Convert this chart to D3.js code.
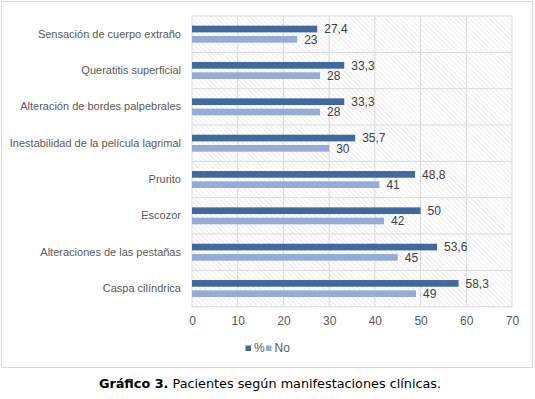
<!DOCTYPE html>
<html><head><meta charset="utf-8">
<script src="https://cdn.jsdelivr.net/npm/d3@7"></script>
<style>
body{margin:0;background:#fff;}
svg{display:block;}
</style></head>
<body>
<svg id="c" width="535" height="399"></svg>
<script>
const categories = ["Sensación de cuerpo extraño","Queratitis superficial","Alteración de bordes palpebrales","Inestabilidad de la película lagrimal","Prurito","Escozor","Alteraciones de las pestañas","Caspa cilíndrica"];
const seriesNames = ["%","No"];
const pctValues = [27.4,33.3,33.3,35.7,48.8,50,53.6,58.3];
const noValues = [23,28,28,30,41,42,45,49];
const xTicks = [0,10,20,30,40,50,60,70];
const colors = ["#41699F","#94ACD6"];

const svg = d3.select("#c");
const L=192, R=512, T=16, B=306.7;
const font = "'Liberation Sans', Arial, sans-serif";

svg.append("rect").attr("x",1.5).attr("y",1.5).attr("width",531).attr("height",366)
  .attr("fill","#fff").attr("stroke","#d9d9d9");

const defs = svg.append("defs");
const pat = defs.append("pattern").attr("id","hatch").attr("patternUnits","userSpaceOnUse")
  .attr("width",3.5).attr("height",4).attr("patternTransform","rotate(-45)");
pat.append("rect").attr("width",3.5).attr("height",4).attr("fill","#fff");
pat.append("line").attr("x1",0).attr("y1",0).attr("x2",0).attr("y2",4).attr("stroke","#e2e2e2").attr("stroke-width",1.2);

const x = d3.scaleLinear().domain([0,70]).range([L,R]);
const y = d3.scaleBand().domain(categories).range([T,B]).padding(0);
const ys = d3.scaleBand().domain(seriesNames).range([0,y.bandwidth()]).paddingInner(0.35).paddingOuter(0.94);

svg.append("rect").attr("x",L).attr("y",T).attr("width",R-L).attr("height",B-T).attr("fill","url(#hatch)");

// grid
svg.append("g").selectAll("line").data(xTicks).join("line")
  .attr("x1",d=>x(d)).attr("x2",d=>x(d)).attr("y1",T).attr("y2",B)
  .attr("stroke","#d9d9d9").attr("stroke-width",1);
const hLines = categories.map(c=>y(c)).concat([B]);
svg.append("g").selectAll("line").data(hLines).join("line")
  .attr("x1",L).attr("x2",R).attr("y1",d=>d).attr("y2",d=>d)
  .attr("stroke","#d9d9d9").attr("stroke-width",1);

const data = categories.map((c,i)=>({c, vals:[{s:"%",v:pctValues[i]},{s:"No",v:noValues[i]}]}));
const g = svg.append("g").selectAll("g").data(data).join("g").attr("transform",d=>`translate(0,${y(d.c)})`);
g.selectAll("rect").data(d=>d.vals).join("rect")
  .attr("x",x(0)).attr("y",d=>ys(d.s)).attr("width",d=>x(d.v)-x(0)).attr("height",ys.bandwidth())
  .attr("fill",(d,i)=>colors[i]);
g.selectAll("text").data(d=>d.vals).join("text")
  .attr("x",d=>x(d.v)+7).attr("y",d=>ys(d.s)+ys.bandwidth()/2).attr("dy","0.36em")
  .attr("font-family",font).attr("font-size",12).attr("fill","#404040")
  .text(d=>String(d.v).replace(".",","));

// axes
const ax = svg.append("g").attr("transform",`translate(0,${B})`)
  .call(d3.axisBottom(x).tickValues(xTicks).tickSize(0).tickPadding(10));
ax.select(".domain").remove();
ax.selectAll("text").attr("font-family",font).attr("font-size",12).attr("fill","#595959");

const ay = svg.append("g").attr("transform",`translate(${L},0)`)
  .call(d3.axisLeft(y).tickSize(0).tickPadding(11));
ay.select(".domain").remove();
ay.selectAll("text").attr("font-family",font).attr("font-size",11).attr("fill","#595959");

// legend
const lg = svg.append("g").attr("transform","translate(245.5,348)");
let lx=0;
seriesNames.forEach((n,i)=>{
  lg.append("rect").attr("x",lx).attr("y",-2.5).attr("width",5.5).attr("height",5.5).attr("fill",colors[i]);
  lg.append("text").attr("x",lx+8.5).attr("y",0).attr("dy","0.36em").attr("font-family",font).attr("font-size",12)
    .attr("fill","#595959").text(n);
  lx += 20.5;
});

// caption
const cap = svg.append("text").attr("x",270).attr("y",388).attr("text-anchor","middle")
  .attr("font-family","'DejaVu Sans', Verdana, sans-serif").attr("font-size",12.8).attr("fill","#000");
cap.append("tspan").attr("font-weight","bold").text("Gráfico 3.");
cap.append("tspan").text(" Pacientes según manifestaciones clínicas.");
</script>
</body></html>
